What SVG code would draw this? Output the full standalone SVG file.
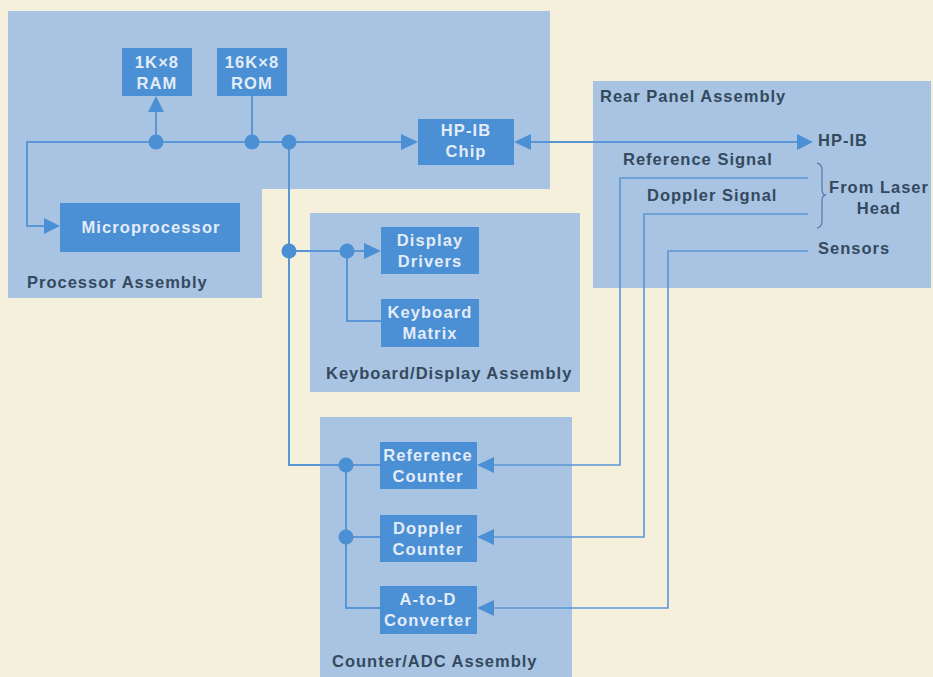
<svg xmlns="http://www.w3.org/2000/svg" width="933" height="677" viewBox="0 0 933 677">
<defs>
<style>
.panel{fill:#a9c4e2}
.box{fill:#4b8fd5}
.bt{font-family:"Liberation Sans",Arial,sans-serif;font-weight:bold;font-size:16.5px;fill:#e3ecf7;text-anchor:middle;letter-spacing:1.1px}
.lbl{font-family:"Liberation Sans",Arial,sans-serif;font-weight:bold;font-size:16.5px;fill:#34495e;letter-spacing:1px}
.bus{fill:none;stroke:#5a96d6;stroke-width:2}
.sig{fill:none;stroke:#5a96d6;stroke-width:1.6}
.dot{fill:#4b8fd5}
.arr{fill:#4b8fd5}
</style>
</defs>
<rect width="933" height="677" fill="#f4f0dc"/>
<g id="processor-assembly">
<path class="panel" d="M8,11 H550 V189 H262 V298 H8 Z"/>
<text class="lbl" x="27" y="288">Processor Assembly</text>
</g>
<g id="rear-panel-assembly">
<rect class="panel" x="593" y="81" width="338" height="207"/>
<text class="lbl" x="600" y="102">Rear Panel Assembly</text>
</g>
<g id="keyboard-display-assembly">
<rect class="panel" x="310" y="213" width="270" height="179"/>
<text class="lbl" x="326" y="379">Keyboard/Display Assembly</text>
</g>
<g id="counter-adc-assembly">
<rect class="panel" x="320" y="417" width="252" height="260"/>
<text class="lbl" x="332" y="667">Counter/ADC Assembly</text>
</g>
<g id="ram">
<rect class="box" x="122" y="48" width="70" height="48"/>
<text class="bt" x="157" y="68">1K×8</text>
<text class="bt" x="157" y="89">RAM</text>
</g>
<g id="rom">
<rect class="box" x="217" y="48" width="70" height="48"/>
<text class="bt" x="252" y="68">16K×8</text>
<text class="bt" x="252" y="89">ROM</text>
</g>
<g id="hpib-chip">
<rect class="box" x="418" y="119" width="96" height="46"/>
<text class="bt" x="466" y="136">HP-IB</text>
<text class="bt" x="466" y="157">Chip</text>
</g>
<g id="microprocessor">
<rect class="box" x="60" y="203" width="180" height="49"/>
<text class="bt" x="151" y="233">Microprocessor</text>
</g>
<g id="display-drivers">
<rect class="box" x="381" y="227" width="98" height="47"/>
<text class="bt" x="430" y="246">Display</text>
<text class="bt" x="430" y="267">Drivers</text>
</g>
<g id="keyboard-matrix">
<rect class="box" x="381" y="299" width="98" height="48"/>
<text class="bt" x="430" y="318">Keyboard</text>
<text class="bt" x="430" y="339">Matrix</text>
</g>
<g id="reference-counter">
<rect class="box" x="380" y="442" width="97" height="47"/>
<text class="bt" x="428" y="461">Reference</text>
<text class="bt" x="428" y="482">Counter</text>
</g>
<g id="doppler-counter">
<rect class="box" x="380" y="515" width="97" height="47"/>
<text class="bt" x="428" y="534">Doppler</text>
<text class="bt" x="428" y="555">Counter</text>
</g>
<g id="atod-converter">
<rect class="box" x="380" y="586" width="97" height="48"/>
<text class="bt" x="428" y="605">A-to-D</text>
<text class="bt" x="428" y="626">Converter</text>
</g>
<g id="rear-panel-labels">
<text class="lbl" x="818" y="146">HP-IB</text>
<text class="lbl" x="623" y="165">Reference Signal</text>
<text class="lbl" x="647" y="201">Doppler Signal</text>
<text class="lbl" x="879" y="193" text-anchor="middle">From Laser</text>
<text class="lbl" x="879" y="214" text-anchor="middle">Head</text>
<text class="lbl" x="818" y="254">Sensors</text>
<path d="M817,163 Q822,164 822,170 V189 Q822,195 826,195 Q822,195 822,201 V221 Q822,227 817,228" fill="none" stroke="#5b7fa8" stroke-width="1.3"/>
</g>
<g id="connectors">
<path class="bus" d="M402,142 H27 V226 H46"/>
<path class="bus" d="M156,142 V110"/>
<path class="bus" d="M252,142 V96"/>
<path class="bus" d="M289,142 V465 H380"/>
<path class="bus" d="M289,251 H365"/>
<path class="bus" d="M347,251 V321 H381"/>
<path class="bus" d="M346,465 V608 H380"/>
<path class="bus" d="M346,537 H380"/>
<path class="bus" d="M530,142 H798"/>
<path class="sig" d="M808,178 H620 V465 H492"/>
<path class="sig" d="M808,214 H644 V537 H492"/>
<path class="sig" d="M808,251 H668 V608 H492"/>
<polygon class="arr" points="60,226 44,218 44,234"/>
<polygon class="arr" points="156,96 148,112 164,112"/>
<polygon class="arr" points="418,142 401,134 401,150"/>
<polygon class="arr" points="514,142 531,134 531,150"/>
<polygon class="arr" points="813,142 797,134 797,150"/>
<polygon class="arr" points="381,251 364,243 364,259"/>
<polygon class="arr" points="477,465 494,457 494,473"/>
<polygon class="arr" points="477,537 494,529 494,545"/>
<polygon class="arr" points="477,608 494,600 494,616"/>
<circle class="dot" cx="156" cy="142" r="7.5"/>
<circle class="dot" cx="252" cy="142" r="7.5"/>
<circle class="dot" cx="289" cy="142" r="7.5"/>
<circle class="dot" cx="289" cy="251" r="7.5"/>
<circle class="dot" cx="347" cy="251" r="7.5"/>
<circle class="dot" cx="346" cy="465" r="7.5"/>
<circle class="dot" cx="346" cy="537" r="7.5"/>
</g>
</svg>
